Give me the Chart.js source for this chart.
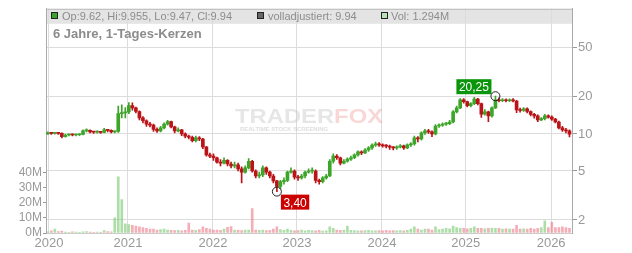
<!DOCTYPE html>
<html>
<head>
<meta charset="utf-8">
<script src="https://cdn.jsdelivr.net/npm/chart.js@4/dist/chart.umd.min.js"></script>
<style>
html, body { margin: 0; padding: 0; background: #fff; }
#wrap { width: 632px; height: 253px; }
</style>
</head>
<body>
<div id="wrap"><canvas id="chart" width="632" height="253"></canvas></div>
<script>
// Halbmonats-Kerzen, Dez 2019 .. Mär 2026
const opens = [
  10.0, 10.2, 10.1, 10.2, 10.1, 9.5, 9.8, 9.85, 9.8, 9.85,
  9.9, 10.6, 10.7, 10.4, 10.35, 10.4, 10.3, 10.8, 10.7, 10.4,
  10.5, 14.6, 14.8, 15.1, 17.0, 16.3, 15.2, 13.5, 12.8, 12.0,
  11.8, 10.9, 10.6, 11.2, 12.0, 12.6, 11.4, 10.6, 10.8, 10.0,
  9.6, 9.4, 8.8, 9.3, 9.1, 7.85, 6.75, 6.6, 6.4, 5.9,
  5.8, 6.1, 5.7, 5.5, 5.6, 5.2, 4.9, 5.3, 6.0, 5.0,
  4.55, 4.65, 5.3, 4.9, 4.55, 4.15, 3.75, 4.1, 4.2, 4.9,
  5.0, 4.45, 4.4, 4.55, 4.9, 5.0, 5.0, 4.2, 4.1, 4.4,
  4.55, 6.0, 6.6, 6.4, 5.8, 6.0, 6.25, 6.4, 6.75, 7.15,
  7.0, 7.4, 7.7, 8.1, 8.3, 8.15, 8.0, 7.95, 7.8, 7.7,
  7.85, 8.0, 7.7, 8.15, 8.3, 9.3, 9.1, 10.2, 10.6, 10.4,
  10.0, 11.6, 11.8, 12.0, 12.1, 12.5, 15.1, 16.3, 18.9, 18.3,
  17.0, 17.6, 19.2, 17.6, 14.5, 15.1, 14.0, 16.3, 18.9, 18.6,
  18.9, 18.6, 18.9, 18.5, 15.7, 15.5, 16.0, 15.2, 14.4, 14.0,
  13.0, 13.3, 14.0, 13.7, 13.2, 12.5, 11.2, 10.8, 10.6
];
const highs = [
  10.4, 10.3, 10.3, 10.3, 10.2, 9.95, 10.0, 10.0, 9.95, 10.0,
  10.8, 11.0, 10.8, 10.5, 10.6, 10.5, 11.1, 10.9, 10.8, 10.6,
  16.8, 17.2, 16.4, 18.0, 17.9, 16.5, 15.4, 13.8, 13.0, 12.4,
  12.0, 11.2, 11.5, 12.3, 12.9, 12.7, 11.6, 11.2, 10.9, 10.2,
  9.8, 9.6, 9.6, 9.5, 9.2, 7.9, 7.0, 6.9, 6.5, 6.2,
  6.4, 6.2, 5.9, 5.9, 5.8, 5.4, 5.5, 6.3, 6.1, 5.1,
  4.9, 5.5, 5.4, 5.0, 4.7, 4.2, 4.2, 4.4, 5.0, 5.3,
  5.1, 4.6, 4.7, 5.0, 5.2, 5.3, 5.1, 4.3, 4.5, 4.7,
  6.2, 6.9, 6.8, 6.5, 6.2, 6.4, 6.6, 6.9, 7.3, 7.3,
  7.6, 7.9, 8.3, 8.6, 8.5, 8.3, 8.2, 8.1, 7.9, 8.0,
  8.2, 8.1, 8.3, 8.5, 9.6, 9.5, 10.4, 10.9, 10.9, 10.6,
  11.9, 12.1, 12.3, 12.4, 12.9, 15.5, 16.8, 19.4, 19.4, 18.5,
  18.0, 19.8, 19.5, 17.8, 15.8, 15.3, 16.6, 20.25, 19.6, 19.4,
  19.3, 19.3, 19.4, 18.7, 16.2, 16.4, 16.3, 15.4, 14.7, 14.3,
  13.6, 14.4, 14.3, 14.0, 13.4, 12.7, 11.5, 11.1, 10.8
];
const lows = [
  9.9, 9.9, 9.95, 9.9, 9.3, 9.4, 9.65, 9.65, 9.65, 9.7,
  9.8, 10.4, 10.2, 10.1, 10.15, 10.1, 10.2, 10.4, 10.2, 10.2,
  10.3, 13.5, 13.5, 14.6, 15.6, 14.8, 13.0, 12.3, 11.5, 11.4,
  10.5, 10.3, 10.4, 11.0, 11.8, 11.2, 10.2, 10.4, 9.7, 9.3,
  9.1, 8.6, 8.6, 8.8, 7.6, 6.6, 6.4, 6.1, 5.8, 5.5,
  5.7, 5.5, 5.3, 5.3, 5.0, 4.0, 4.8, 5.2, 4.9, 4.4,
  4.4, 4.5, 4.7, 4.4, 4.0, 3.40, 3.6, 3.9, 4.1, 4.8,
  4.3, 4.2, 4.3, 4.4, 4.8, 4.8, 4.0, 3.9, 4.0, 4.3,
  4.5, 5.8, 6.2, 5.6, 5.7, 5.9, 6.1, 6.3, 6.6, 6.8,
  6.9, 7.2, 7.5, 7.9, 7.9, 7.8, 7.7, 7.5, 7.4, 7.5,
  7.7, 7.5, 7.6, 7.9, 8.1, 8.6, 8.9, 9.9, 10.1, 9.5,
  9.8, 11.3, 11.5, 11.7, 11.9, 12.3, 14.8, 16.0, 17.8, 16.6,
  16.6, 17.3, 17.2, 13.6, 14.2, 12.6, 13.7, 16.0, 18.2, 18.3,
  18.2, 18.3, 18.2, 14.9, 15.0, 15.2, 14.8, 14.0, 13.4, 12.6,
  12.8, 13.0, 13.4, 12.9, 12.3, 11.0, 10.5, 10.2, 9.47
];
const closes = [
  10.2, 10.1, 10.2, 10.1, 9.5, 9.8, 9.85, 9.8, 9.85, 9.9,
  10.6, 10.7, 10.4, 10.35, 10.4, 10.3, 10.8, 10.7, 10.4, 10.5,
  14.6, 14.8, 15.1, 17.0, 16.3, 15.2, 13.5, 12.8, 12.0, 11.8,
  10.9, 10.6, 11.2, 12.0, 12.6, 11.4, 10.6, 10.8, 10.0, 9.6,
  9.4, 8.8, 9.3, 9.1, 7.85, 6.75, 6.6, 6.4, 5.9, 5.8,
  6.1, 5.7, 5.5, 5.6, 5.2, 4.9, 5.3, 6.0, 5.0, 4.55,
  4.65, 5.3, 4.9, 4.55, 4.15, 3.75, 4.1, 4.2, 4.9, 5.0,
  4.45, 4.4, 4.55, 4.9, 5.0, 5.0, 4.2, 4.1, 4.4, 4.55,
  6.0, 6.6, 6.4, 5.8, 6.0, 6.25, 6.4, 6.75, 7.15, 7.0,
  7.4, 7.7, 8.1, 8.3, 8.15, 8.0, 7.95, 7.8, 7.7, 7.85,
  8.0, 7.7, 8.15, 8.3, 9.3, 9.1, 10.2, 10.6, 10.4, 10.0,
  11.6, 11.8, 12.0, 12.1, 12.5, 15.1, 16.3, 18.9, 18.3, 17.0,
  17.6, 19.2, 17.6, 14.5, 15.1, 14.0, 16.3, 18.9, 18.6, 18.9,
  18.6, 18.9, 18.5, 15.7, 15.5, 16.0, 15.2, 14.4, 14.0, 13.0,
  13.3, 14.0, 13.7, 13.2, 12.5, 11.2, 10.8, 10.6, 9.94
];
// Volumen in Mio. Stück
const volumes = [
  0.8, 1.5, 2.6, 1.0, 1.2, 0.6, 0.5, 0.8, 0.6, 0.5,
  0.7, 1.0, 0.6, 0.5, 0.6, 0.5, 1.6, 1.0, 0.7, 10.0,
  37.0, 22.0, 6.0, 5.5, 5.0, 4.5, 4.0, 3.5, 3.0, 2.5,
  2.5, 2.0, 2.2, 2.5, 2.0, 1.8, 1.6, 1.8, 1.5, 1.8,
  6.5, 2.0, 1.8, 2.2, 4.0, 3.0, 2.5, 2.0, 2.0, 1.8,
  2.5, 3.8, 4.2, 2.0, 1.8, 1.6, 2.0, 2.0, 16.0, 2.0,
  1.8, 2.0, 1.6, 1.8, 2.5, 4.0, 2.2, 1.8, 2.5, 1.8,
  1.5, 1.6, 2.0, 1.5, 1.8, 1.6, 1.5, 1.8, 1.2, 1.5,
  4.0, 3.0, 2.0, 1.8, 2.0, 4.5, 1.8, 1.6, 1.5, 1.5,
  1.6, 1.8, 1.5, 1.4, 1.6, 1.5, 1.8, 1.5, 1.6, 1.5,
  1.6, 1.5, 1.8, 2.5, 4.0, 2.5, 2.0, 2.5, 2.5, 2.0,
  4.0, 2.2, 2.5, 3.0, 2.8, 4.5, 3.5, 3.0, 3.0, 2.8,
  3.0, 4.0, 3.0, 3.0, 2.8, 3.0, 3.2, 3.0, 3.0, 2.5,
  2.8, 2.5, 2.6, 5.0, 2.5, 2.8, 2.5, 3.0, 2.6, 3.0,
  3.5, 8.0, 3.5, 7.0, 3.5, 3.5, 4.0, 3.5, 3.0
];

// Jahresanfang als Position auf der Kerzen-Achse
const yearTicks = [0.35, 22.76, 46.87, 70.7, 94.8, 118.6, 142.8];
const yearLabels = ['2020', '2021', '2022', '2023', '2024', '2025', '2026'];
const priceTicks = [2, 5, 10, 20, 50];
const volTicks = [0, 10, 20, 30, 40];

const legendText = ['Op:9.62, Hi:9.955, Lo:9.47, Cl:9.94', 'volladjustiert: 9.94', 'Vol: 1.294M'];
const titleText = '6 Jahre, 1-Tages-Kerzen';

const GREEN = '#3da52a';
const RED = '#bb1418';
const up = closes.map((c, i) => c >= opens[i]);

const idx = closes.map((c, i) => i);

const decorations = {
    id: 'decorations',
    beforeDraw(chart) {
        const ctx = chart.ctx;
        const a = chart.chartArea;
        ctx.save();
        ctx.fillStyle = '#fff';
        ctx.fillRect(0, 0, chart.width, chart.height);
        // Legendenleiste
        ctx.fillStyle = '#e4e4e4';
        ctx.fillRect(a.left, a.top, a.right - a.left, 15);
        ctx.restore();
    },
    beforeDatasetsDraw(chart) {
        const ctx = chart.ctx;
        ctx.save();
        // Wasserzeichen
        ctx.font = 'bold 21px "Liberation Sans", Arial, sans-serif';
        const w1 = ctx.measureText('TRADER').width;
        const wAll = ctx.measureText('TRADERFOX').width;
        ctx.translate(235, 123);
        ctx.scale(148 / wAll, 1);
        ctx.fillStyle = 'rgba(200,200,200,0.45)';
        ctx.fillText('TRADER', 0, 0);
        ctx.fillStyle = 'rgba(240,140,140,0.35)';
        ctx.fillText('FOX', w1, 0);
        ctx.restore();
        ctx.save();
        ctx.font = 'bold 5px "Liberation Sans", Arial, sans-serif';
        const sub = 'REALTIME STOCK SCREENING';
        const ws = ctx.measureText(sub).width;
        ctx.translate(240, 131);
        ctx.scale(88 / ws, 1);
        ctx.fillStyle = 'rgba(190,190,190,0.5)';
        ctx.fillText(sub, 0, 0);
        ctx.restore();
    },
    afterDraw(chart) {
        const ctx = chart.ctx;
        const a = chart.chartArea;
        const xs = chart.scales.x, ys = chart.scales.y;
        ctx.save();
        ctx.strokeStyle = '#bbb';
        ctx.lineWidth = 1;
        ctx.beginPath();
        ctx.moveTo(a.left, a.top + 0.5);
        ctx.lineTo(a.right, a.top + 0.5);
        ctx.stroke();

        // Legende
        ctx.font = '11px "Liberation Sans", Arial, sans-serif';
        ctx.textBaseline = 'alphabetic';
        const items = [
            { x: 51, fill: '#3aa52a', tx: 62 },
            { x: 257, fill: '#666', tx: 268 },
            { x: 381, fill: '#b8e4b4', tx: 391 }
        ];
        items.forEach((it, i) => {
            ctx.fillStyle = it.fill;
            ctx.fillRect(it.x, 12, 7, 7);
            ctx.strokeStyle = '#222';
            ctx.strokeRect(it.x + 0.5, 12.5, 6, 6);
            ctx.fillStyle = '#8c8c8c';
            ctx.fillText(legendText[i], it.tx, 19.5);
        });

        ctx.font = 'bold 13px "Liberation Sans", Arial, sans-serif';
        ctx.fillStyle = '#8c8c8c';
        ctx.fillText(titleText, 53, 37.5);

        // Hoch / Tief Markierungen
        const hiVal = Math.max(...highs), loVal = Math.min(...lows);
        const hiI = highs.indexOf(hiVal), loI = lows.indexOf(loVal);
        const fmt = v => v.toFixed(2).replace('.', ',');
        ctx.font = '12px "Liberation Sans", Arial, sans-serif';

        let px = xs.getPixelForValue(hiI), py = ys.getPixelForValue(hiVal);
        let t = fmt(hiVal), tw = ctx.measureText(t).width;
        ctx.fillStyle = '#0a960a';
        ctx.fillRect(px - 4 - tw - 5, py - 17, tw + 5, 15);
        ctx.fillStyle = '#fff';
        ctx.fillText(t, px - 4 - tw - 2.5, py - 5);
        ctx.strokeStyle = '#222';
        ctx.beginPath();
        ctx.arc(px, py, 4.5, 0, Math.PI * 2);
        ctx.stroke();

        px = xs.getPixelForValue(loI); py = ys.getPixelForValue(loVal);
        t = fmt(loVal); tw = ctx.measureText(t).width;
        ctx.fillStyle = '#cc0000';
        ctx.fillRect(px + 4, py + 3, tw + 5, 15);
        ctx.fillStyle = '#fff';
        ctx.fillText(t, px + 6.5, py + 15);
        ctx.strokeStyle = '#222';
        ctx.beginPath();
        ctx.arc(px, py, 4.5, 0, Math.PI * 2);
        ctx.stroke();
        ctx.restore();
    }
};

const ctx = document.getElementById('chart').getContext('2d');
const chart = new Chart(ctx, {
    type: 'bar',
    data: {
        datasets: [
            {
                label: 'Kerzen',
                data: idx.map(i => ({ x: i, y: [opens[i], closes[i]] })),
                backgroundColor: up.map(u => u ? GREEN : RED),
                barThickness: 3,
                minBarLength: 1,
                grouped: false,
                yAxisID: 'y',
                order: 1
            },
            {
                label: 'Dochte',
                data: idx.map(i => ({ x: i, y: [lows[i], highs[i]] })),
                backgroundColor: up.map(u => u ? GREEN : RED),
                barThickness: 1,
                grouped: false,
                yAxisID: 'y',
                order: 2
            },
            {
                label: 'Volumen',
                data: idx.map(i => ({ x: i, y: volumes[i] })),
                backgroundColor: up.map(u => u ? 'rgba(120,200,110,0.6)' : 'rgba(235,120,135,0.6)'),
                barThickness: 2,
                grouped: false,
                yAxisID: 'yv',
                order: 3
            }
        ]
    },
    options: {
        responsive: false,
        animation: false,
        devicePixelRatio: 1,
        layout: { padding: { top: 8, left: 0, right: 0, bottom: 0 } },
        plugins: {
            legend: { display: false },
            tooltip: { enabled: false },
            title: { display: false }
        },
        scales: {
            x: {
                type: 'linear',
                offset: false,
                min: -0.5,
                max: 148.72,
                afterBuildTicks: s => { s.ticks = yearTicks.map(v => ({ value: v })); },
                afterFit: s => { s.height = 20; },
                ticks: {
                    callback: (v, i) => yearLabels[i],
                    autoSkip: false,
                    maxRotation: 0,
                    color: '#999',
                    font: { size: 13, family: '"Liberation Sans", Arial, sans-serif' },
                    padding: 3
                },
                grid: { offset: false, color: '#dcdcdc', tickLength: 0 },
                border: { color: '#ccc' }
            },
            y: {
                type: 'logarithmic',
                position: 'right',
                min: 1.568,
                max: 103.8,
                afterBuildTicks: s => { s.ticks = priceTicks.map(v => ({ value: v })); },
                afterFit: s => { s.width = 60; },
                ticks: {
                    callback: v => String(v),
                    color: '#999',
                    font: { size: 13, family: '"Liberation Sans", Arial, sans-serif' },
                    padding: 1
                },
                grid: { color: '#dcdcdc', tickColor: '#999', tickLength: 5 },
                border: { color: '#aaa' }
            },
            yv: {
                type: 'linear',
                position: 'left',
                min: 0,
                max: 147.5,
                afterBuildTicks: s => { s.ticks = volTicks.map(v => ({ value: v })); },
                afterFit: s => { s.width = 46; },
                ticks: {
                    callback: v => v + 'M',
                    color: '#999',
                    font: { size: 12, family: '"Liberation Sans", Arial, sans-serif' },
                    padding: 1
                },
                grid: { drawOnChartArea: false, tickColor: '#999', tickLength: 3 },
                border: { color: '#aaa' }
            }
        }
    },
    plugins: [decorations]
});
</script>
</body>
</html>
